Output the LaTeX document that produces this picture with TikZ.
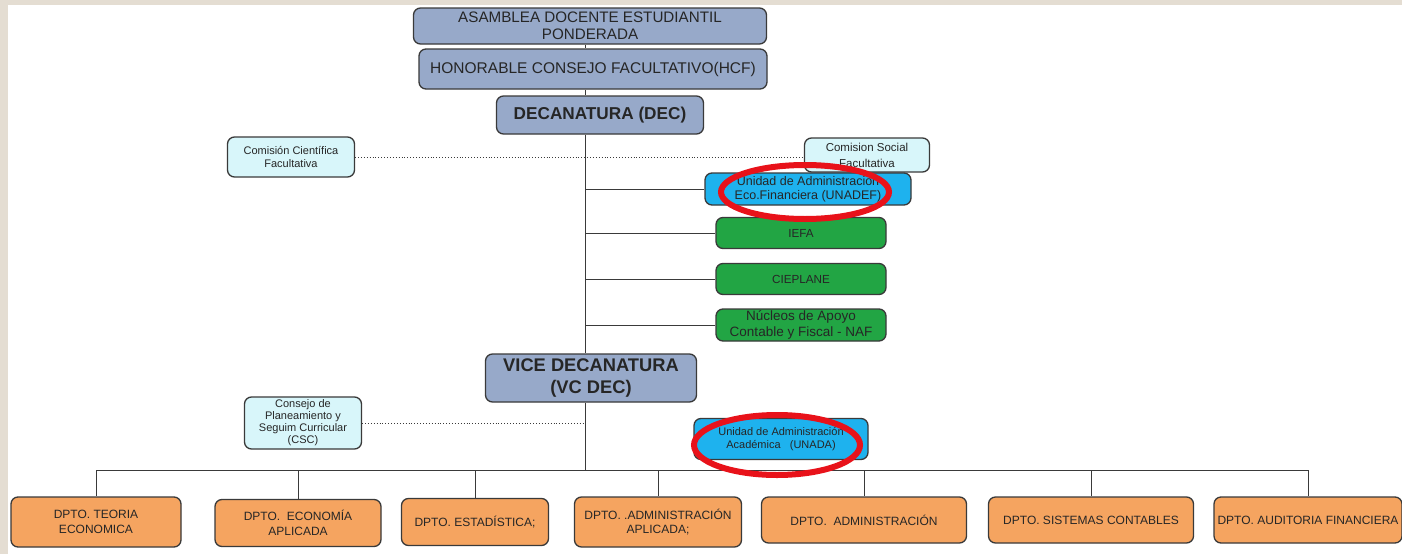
\documentclass[tikz,border=0pt]{standalone}
\usepackage{fontspec}
\setmainfont{Liberation Sans}
\usetikzlibrary{calc}
\pgfdeclarelayer{bg}
\pgfsetlayers{bg,main}
\definecolor{bgbeige}{HTML}{E4DDD2}
\definecolor{bordergray}{HTML}{3A3A3A}
\definecolor{steel}{HTML}{97A9C9}
\definecolor{lcyan}{HTML}{D8F6FA}
\definecolor{brcyan}{HTML}{1EB2EE}
\definecolor{grn}{HTML}{22A544}
\definecolor{orng}{HTML}{F5A460}
\definecolor{redring}{HTML}{E8121A}
\tikzset{
  box/.style={draw=bordergray, line width=1.3pt, rounded corners=7pt, align=center, inner sep=0pt, text=black!85},
  topbox/.style={box, fill=steel},
  combox/.style={box, fill=lcyan, font=\fontsize{11}{12.5}\selectfont},
  unibox/.style={box, fill=brcyan, font=\fontsize{11}{13}\selectfont},
  grnbox/.style={box, fill=grn, font=\fontsize{11.7}{13}\selectfont, minimum width=170pt, minimum height=31pt},
  dptbox/.style={box, fill=orng, font=\fontsize{12}{14.5}\selectfont},
  link/.style={draw=bordergray, line width=0.9pt},
  dotlink/.style={draw=bordergray, line width=0.9pt, dotted},
  ring/.style={draw=redring, line width=6pt}
}
\begin{document}
\begin{tikzpicture}[x=1pt, y=-1pt]
\useasboundingbox (0,0) rectangle (1402,554);

% top chain
\node[topbox, minimum width=353pt, minimum height=36pt, font=\fontsize{15.2}{17}\selectfont] (asam) at (590,26) {ASAMBLEA DOCENTE ESTUDIANTIL\\PONDERADA};
\node[topbox, minimum width=348pt, minimum height=40pt, font=\fontsize{15.5}{17}\selectfont] (hcf) at (593,69) {HONORABLE CONSEJO FACULTATIVO(HCF)};
\node[topbox, minimum width=207pt, minimum height=38pt, font=\bfseries\fontsize{17.2}{19}\selectfont] (dec) at (600,115) {DECANATURA (DEC)};
\node[topbox, minimum width=211pt, minimum height=48pt, font=\bfseries\fontsize{18.3}{22}\selectfont] (vice) at (591,378) {VICE DECANATURA\\(VC DEC)};

\coordinate (sp) at (585,0);
\coordinate (bus) at (585,470);

% side nodes
\node[combox, minimum width=127pt, minimum height=40pt] (ccf) at (291,157) {Comisión Científica\\Facultativa};
\node[combox, minimum width=125pt, minimum height=34pt, font=\fontsize{11.5}{13}\selectfont] (css) at (867,155) {Comision Social\\\raisebox{-3pt}{Facultativa}};
\node[unibox, minimum width=206pt, minimum height=32pt, font=\fontsize{12.5}{14}\selectfont] (unadef) at (808,189) {Unidad de Administracion\\Eco.Financiera (UNADEF)};
\node[grnbox] (iefa) at (801,233) {IEFA};
\node[grnbox] (ciep) at (801,279) {CIEPLANE};
\node[grnbox, minimum height=32pt, font=\fontsize{13.5}{15.5}\selectfont] (naf) at (801,325) {Núcleos de Apoyo\\Contable y Fiscal - NAF};
\node[combox, minimum width=117pt, minimum height=52pt, font=\fontsize{11}{12}\selectfont] (csc) at (303,423) {Consejo de\\Planeamiento y\\Seguim Curricular\\(CSC)};
\node[unibox, minimum width=174pt, minimum height=41pt] (unada) at (781,439) {Unidad de Administración\\Académica \ \ (UNADA)};

% departments
\node[dptbox, minimum width=170pt, minimum height=50pt] (d1) at (96,522) {DPTO. TEORIA\\ECONOMICA};
\node[dptbox, minimum width=166pt, minimum height=47pt] (d2) at (298,523) {DPTO. \ ECONOMÍA\\APLICADA};
\node[dptbox, minimum width=147pt, minimum height=47pt] (d3) at (475,522) {DPTO. ESTADÍSTICA;};
\node[dptbox, minimum width=167pt, minimum height=50pt] (d4) at (658,522) {DPTO. .ADMINISTRACIÓN\\APLICADA;};
\node[dptbox, minimum width=205pt, minimum height=46pt] (d5) at (864,520) {DPTO. \ ADMINISTRACIÓN};
\node[dptbox, minimum width=205pt, minimum height=46pt] (d6) at (1091,520) {DPTO. SISTEMAS CONTABLES};
\node[dptbox, minimum width=188pt, minimum height=46pt] (d7) at (1308,520) {DPTO. AUDITORIA FINANCIERA};

% background and connectors
\begin{pgfonlayer}{bg}
\fill[bgbeige] (0,0) rectangle (1402,554);
\fill[white] (8,5) rectangle (1402,554);
\path[link] (asam.south -| sp) -- (hcf.north -| sp);
\path[link] (hcf.south -| sp) -- (dec.north -| sp);
\path[link] (dec.south -| sp) -- (vice.north -| sp);
\path[link] (vice.south -| sp) -- (bus);
\path[dotlink] (ccf.east) -- (ccf.east -| css.west);
\path[link] (unadef.west -| sp) -- (unadef.west);
\path[link] (iefa.west -| sp) -- (iefa.west);
\path[link] (ciep.west -| sp) -- (ciep.west);
\path[link] (naf.west -| sp) -- (naf.west);
\path[dotlink] (csc.east) -- (csc.east -| sp);
\path[link] ($(unada.west)+(0,-1)$ -| sp) -- ($(unada.west)+(0,-1)$);
\path[link] (bus -| d1.north) -- (bus -| d7.north);
\foreach \d in {d1,d2,d3,d4,d5,d6,d7} {
  \path[link] (bus -| \d.north) -- (\d.north);
}
\end{pgfonlayer}

% red rings
\draw[ring] (805,192) ellipse [x radius=84, y radius=27];
\draw[ring] (777,445) ellipse [x radius=83, y radius=30];
\end{tikzpicture}
\end{document}
